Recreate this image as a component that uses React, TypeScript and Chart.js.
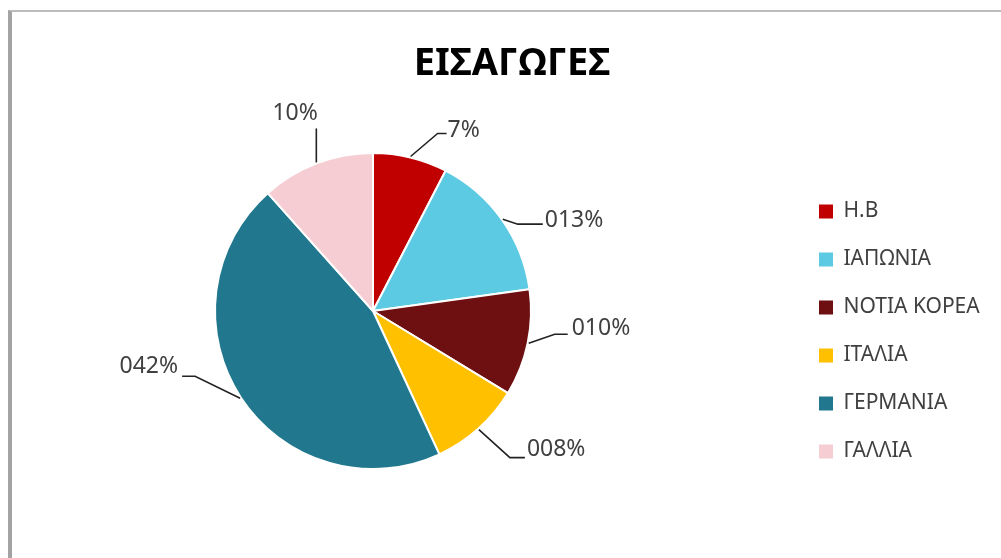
import React, { useEffect, useRef } from "react";
import { Chart, registerables } from "chart.js";

Chart.register(...registerables);

// ---- data ----
const TITLE = "ΕΙΣΑΓΩΓΕΣ";
const CATEGORIES = ["Η.Β", "ΙΑΠΩΝΙΑ", "ΝΟΤΙΑ ΚΟΡΕΑ", "ΙΤΑΛΙΑ", "ΓΕΡΜΑΝΙΑ", "ΓΑΛΛΙΑ"];
const SHARES = [7.6, 15.2, 10.9, 9.4, 45.3, 11.6];
const VALUE_LABELS = ["7%", "013%", "010%", "008%", "042%", "10%"];
const COLORS = ["#C00000", "#5DCAE3", "#6E1012", "#FFC000", "#21788E", "#F5CDD2"];

// ---- label leader-line layout (style, relative to each slice's outer edge) ----
type LabelLayout = { dx: number; dy: number; run: number; align: "left" | "right"; gap: number; lift: number };
const LABEL_LAYOUT: LabelLayout[] = [
  { dx: 27, dy: -23, run: 9, align: "left", gap: 1, lift: 3.5 },
  { dx: 15, dy: 5, run: 25, align: "left", gap: 2, lift: 3.5 },
  { dx: 26, dy: -9, run: 13, align: "left", gap: 4, lift: 6 },
  { dx: 31, dy: 28, run: 15, align: "left", gap: 2, lift: 8 },
  { dx: -45, dy: -22, run: -13, align: "right", gap: 4, lift: 9.5 },
  { dx: 0, dy: -34, run: 0, align: "right", gap: -1.5, lift: 14.5 },
];

const LEGEND_FONT = { family: "'Noto Sans'", size: 21 };
const LEGEND_BOX = 14;
const LEGEND_PAD = 27;
const CANVAS_W = 1047;
const CANVAS_SHIFT = 46;
const LEGEND_LEFT = 838; // in canvas coordinates

const leaderLabels = {
  id: "leaderLabels",
  afterDatasetsDraw(chart: any) {
    const ctx = chart.ctx as CanvasRenderingContext2D;
    const meta = chart.getDatasetMeta(0);
    ctx.save();
    ctx.font = "23px 'Noto Sans'";
    ctx.fillStyle = "#404040";
    ctx.strokeStyle = "#222222";
    ctx.lineWidth = 1.6;
    ctx.textBaseline = "middle";
    meta.data.forEach((el: any, i: number) => {
      const { x, y, startAngle, endAngle, outerRadius } = el.getProps(
        ["x", "y", "startAngle", "endAngle", "outerRadius"],
        true
      );
      const mid = (startAngle + endAngle) / 2;
      const sx = x + Math.cos(mid) * (outerRadius + 1);
      const sy = y + Math.sin(mid) * (outerRadius + 1);
      const L = LABEL_LAYOUT[i];
      const ex = sx + L.dx;
      const ey = sy + L.dy;
      const hx = ex + L.run;
      ctx.beginPath();
      ctx.moveTo(sx, sy);
      ctx.lineTo(ex, ey);
      ctx.lineTo(hx, ey);
      ctx.stroke();
      ctx.textAlign = L.align;
      ctx.fillText(VALUE_LABELS[i], L.align === "left" ? hx + L.gap : hx - L.gap, ey - L.lift);
    });
    ctx.restore();
  },
};

export default function App() {
  const ref = useRef<HTMLCanvasElement | null>(null);

  useEffect(() => {
    if (!ref.current) return;
    // measure the legend so its left edge lands where the reference has it
    const mctx = document.createElement("canvas").getContext("2d") as CanvasRenderingContext2D;
    mctx.font = `${LEGEND_FONT.size}px ${LEGEND_FONT.family}`;
    const maxText = Math.max(...CATEGORIES.map((c) => mctx.measureText(c).width));
    const legendW = LEGEND_PAD + LEGEND_BOX + LEGEND_FONT.size / 2 + maxText + 10;
    const padRight = Math.max(0, CANVAS_W - LEGEND_LEFT - legendW);

    const chart = new Chart(ref.current, {
      type: "pie",
      data: {
        labels: CATEGORIES,
        datasets: [
          {
            data: SHARES,
            backgroundColor: COLORS,
            borderColor: "#FFFFFF",
            borderWidth: 2,
            radius: 158,
            clip: false,
          } as any,
        ],
      },
      options: {
        responsive: false,
        animation: false,
        events: [],
        layout: { padding: { left: 0, right: padRight, top: 133, bottom: 69 } },
        plugins: {
          title: { display: false },
          tooltip: { enabled: false },
          legend: {
            display: true,
            position: "right",
            align: "end",
            labels: {
              boxWidth: LEGEND_BOX,
              boxHeight: LEGEND_BOX,
              padding: LEGEND_PAD,
              color: "#404040",
              font: LEGEND_FONT,
              generateLabels: () =>
                CATEGORIES.map((text, i) => ({
                  text,
                  fillStyle: COLORS[i],
                  strokeStyle: COLORS[i],
                  lineWidth: 0,
                  hidden: false,
                  index: i,
                  fontColor: "#404040",
                })),
            },
          },
        },
      },
      plugins: [leaderLabels],
    });
    return () => chart.destroy();
  }, []);

  return (
    <div
      style={{
        position: "absolute",
        left: 0,
        top: 0,
        width: 1001,
        height: 558,
        overflow: "hidden",
        background: "#FFFFFF",
      }}
    >
      <div
        style={{
          position: "absolute",
          left: 8,
          top: 10,
          width: 1000,
          height: 560,
          borderTop: "2px solid #BDBDBD",
          borderLeft: "4px solid #A3A3A3",
          boxSizing: "border-box",
        }}
      />
      <canvas
        ref={ref}
        width={CANVAS_W}
        height={558}
        style={{ position: "absolute", left: -CANVAS_SHIFT, top: 0, width: CANVAS_W, height: 558 }}
      />
      <div
        style={{
          position: "absolute",
          left: 0,
          top: 41,
          width: 1024,
          textAlign: "center",
          fontFamily: "'Noto Sans', sans-serif",
          fontWeight: 700,
          fontSize: 38,
          lineHeight: "38px",
          color: "#000000",
        }}
      >
        {TITLE}
      </div>
    </div>
  );
}
